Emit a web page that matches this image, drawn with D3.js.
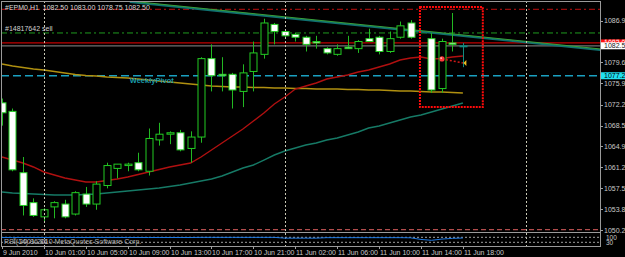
<!doctype html>
<html lang="en">
<head>
<meta charset="utf-8">
<title>EPM0,H1</title>
<script src="https://cdn.jsdelivr.net/npm/d3@7"></script>
<style>
	body { margin: 0; background: #000; }
	svg { display: block; font-family: "Liberation Sans", Arial, sans-serif; }
</style>
</head>
<body>
<svg width="625" height="257"></svg>
<script>
// ---- data (EPM0, H1) ----
var symbol = "#EPM0,H1";

// one entry per hourly bar, bar 40 not shown
var open  = [1072.50,1071.00,1060.25,1055.00,1052.50,1054.25,1054.75,1053.00,1056.50,1054.75,1058.00,1061.00,1061.50,1062.00,1060.50,1066.00,1067.00,1067.25,1064.50,1066.50,1080.25,1077.50,1077.50,1074.50,1078.00,1081.00,1086.25,1085.00,1084.50,1084.00,1083.25,1082.00,1081.00,1082.25,1082.00,1083.75,1084.00,1081.50,1084.00,1086.50,null,1083.75,1075.00,1083.00,1082.50];
var high  = [1073.25,1071.50,1063.00,1055.75,1054.00,1055.25,1055.50,1057.00,1057.75,1058.75,1062.00,1061.75,1062.00,1063.75,1068.00,1069.00,1067.50,1067.75,1067.50,1080.50,1082.75,1080.50,1077.75,1079.25,1083.25,1087.25,1086.50,1085.25,1084.75,1084.25,1084.25,1082.25,1082.75,1084.25,1083.50,1085.50,1084.25,1085.00,1086.75,1087.00,null,1084.75,1083.75,1088.25,1083.00];
var low   = [1068.50,1060.50,1052.75,1052.50,1051.50,1052.25,1052.25,1052.75,1054.25,1053.75,1057.50,1059.25,1060.50,1060.50,1059.75,1065.00,1065.25,1064.00,1062.00,1065.50,1074.50,1074.50,1071.50,1071.75,1074.50,1080.25,1082.75,1084.00,1083.25,1081.50,1082.00,1081.00,1080.75,1082.00,1081.25,1083.25,1081.00,1081.25,1083.75,1083.75,null,1074.25,1074.25,1081.50,1078.75];
var close = [1070.75,1060.75,1054.50,1052.75,1053.75,1055.00,1052.50,1056.75,1054.75,1058.25,1061.50,1061.75,1061.75,1060.75,1066.25,1067.00,1067.25,1064.25,1066.50,1080.25,1077.25,1077.25,1074.75,1077.75,1081.25,1086.50,1085.00,1084.25,1084.00,1082.75,1083.00,1081.25,1082.00,1082.00,1083.25,1083.25,1081.50,1083.75,1086.00,1084.00,null,1074.75,1083.25,1082.75,1082.50];

// moving averages
var maRed   = [1063.00,1062.47,1061.95,1061.25,1060.37,1059.84,1059.32,1058.97,1058.61,1058.61,1058.88,1059.14,1059.49,1059.93,1060.37,1060.81,1061.25,1061.60,1061.95,1063.00,1064.23,1065.45,1066.68,1067.91,1069.31,1070.72,1072.29,1073.52,1074.92,1075.45,1075.98,1076.68,1077.03,1077.38,1077.90,1078.25,1078.78,1079.31,1080.01,1080.36,1080.54,1080.18,1080.27,1080.54,1080.71];
var maTeal  = [1056.86,1056.69,1056.60,1056.51,1056.42,1056.34,1056.34,1056.34,1056.42,1056.51,1056.69,1056.86,1057.04,1057.21,1057.39,1057.56,1057.83,1058.09,1058.44,1058.79,1059.14,1059.67,1060.37,1061.07,1061.60,1062.47,1063.35,1064.05,1064.58,1065.10,1065.45,1065.98,1066.33,1066.86,1067.38,1068.09,1068.44,1068.96,1069.49,1070.01,1070.36,1070.89,1071.42,1071.94,1072.47];
var maOlive = [1079.31,1078.96,1078.69,1078.43,1078.25,1077.99,1077.73,1077.47,1077.29,1077.20,1077.03,1076.94,1076.85,1076.68,1076.50,1076.33,1076.15,1075.98,1075.80,1075.62,1075.45,1075.36,1075.27,1075.27,1075.19,1075.19,1075.10,1075.10,1075.01,1075.01,1074.92,1074.92,1074.92,1074.84,1074.84,1074.75,1074.75,1074.66,1074.57,1074.57,1074.49,1074.40,1074.40,1074.31,1074.22];

// sub window oscillator
var osc = [97,97,97,97,97,97,97,97,97,97,97,97,97,97,97,97,97,97,97,99,99,99,99,99,99,99,99,88,88,88,88,95,95,95,95,95,95,95,95,93,70,58,75,85,90];
var oscLevels = [100, 30];

// axes
var priceTicks = [1086.90,1083.20,1079.60,1075.90,1072.20,1068.50,1064.90,1061.20,1057.50,1053.80,1050.20];
var timeLabels = ["9 Jun 2010","10 Jun 01:00","10 Jun 05:00","10 Jun 09:00","10 Jun 13:00","10 Jun 17:00","10 Jun 21:00","11 Jun 02:00","11 Jun 06:00","11 Jun 10:00","11 Jun 14:00","11 Jun 18:00"];
var timeLabelBars = [0,4,8,12,16,20,24,28,32,36,40,44];
var separatorBars = [4,27,50];

// chart objects
var pivot = 1077.25;
var sellLevel = 1084.75, sellLabel = "#14817642 sell";
var tpLevel = 1088.90, slLevel = 1050.25;
var bid = 1082.50, ask = 1083.00;
var trendBars = [12.2, 57.1], trendPrices = [1090.35, 1081.95];
var boxBars = [39.9, 45.9], boxPrices = [1089.30, 1071.75];
var tradeBars = [42, 44], tradePrices = [1080.20, 1079.50];

// ---- layout ----
var L = 1, R = 600, T = 1, mainB = 232, subB = 246;

var svg = d3.select("svg");
svg.append("rect").attr("width", 625).attr("height", 257).attr("fill", "#000");

var x = d3.scaleLinear().domain([0, 44]).range([2, 462.9]);
var y = d3.scaleLinear().domain([1050.2, 1086.9]).range([230, 20.7]);
var yo = d3.scaleLinear().domain([30, 100]).range([242.3, 237.3]);

svg.append("clipPath").attr("id", "main").append("rect")
	.attr("x", L).attr("y", T).attr("width", R - L).attr("height", mainB - T);
svg.append("clipPath").attr("id", "sub").append("rect")
	.attr("x", L).attr("y", mainB).attr("width", R - L).attr("height", subB - mainB);

var g = svg.append("g").attr("clip-path", "url(#main)");

// period separators
svg.selectAll(".sep").data(separatorBars).enter().append("line")
	.attr("x1", d => Math.round(x(d)) + 0.5).attr("x2", d => Math.round(x(d)) + 0.5)
	.attr("y1", T).attr("y2", subB)
	.attr("stroke", "#c8c8b4").attr("stroke-dasharray", "2,2");

// horizontal levels
function hline(p, color, dash, w) {
	g.append("line").attr("x1", L).attr("x2", R)
		.attr("y1", y(p)).attr("y2", y(p))
		.attr("stroke", color).attr("stroke-width", w || 1)
		.attr("stroke-dasharray", dash);
}
hline(tpLevel, "#c01010", "6,3,2,3");
hline(sellLevel, "#1f9a1f", "6,3,2,3");
hline(ask, "#c00000", null, 1.3);
hline(bid, "#707070", null, 1.3);
hline(pivot, "#1aa0c0", "8,4", 1.5);
hline(slLevel, "#e06060", "5,3");

// moving averages
var line = d3.line().x((d, i) => x(i)).y(d => y(d));
g.append("path").attr("d", line(maOlive)).attr("fill", "none").attr("stroke", "#b09010").attr("stroke-width", 1.4);
g.append("path").attr("d", line(maTeal)).attr("fill", "none").attr("stroke", "#167a66").attr("stroke-width", 1.4);
g.append("path").attr("d", line(maRed)).attr("fill", "none").attr("stroke", "#b01010").attr("stroke-width", 1.4);

// trendline (two overlapping lines)
g.append("line").attr("x1", x(trendBars[0])).attr("y1", y(trendPrices[0]) + 1)
	.attr("x2", x(trendBars[1])).attr("y2", y(trendPrices[1]) + 1)
	.attr("stroke", "#0f7070").attr("stroke-width", 2);
g.append("line").attr("x1", x(trendBars[0])).attr("y1", y(trendPrices[0]))
	.attr("x2", x(trendBars[1])).attr("y2", y(trendPrices[1]))
	.attr("stroke", "#3aa03a").attr("stroke-width", 1);

// candles
var bars = d3.range(open.length).filter(i => open[i] != null);
var c = g.selectAll(".bar").data(bars).enter().append("g");
c.append("line")
	.attr("x1", i => Math.round(x(i)) + 0.5).attr("x2", i => Math.round(x(i)) + 0.5)
	.attr("y1", i => y(high[i])).attr("y2", i => y(low[i]))
	.attr("stroke", i => i == 44 ? "#138a80" : "#22b822");
c.append("rect")
	.attr("x", i => Math.round(x(i)) - 3)
	.attr("y", i => y(Math.max(open[i], close[i])))
	.attr("width", 7)
	.attr("height", i => Math.max(1, Math.abs(y(open[i]) - y(close[i]))))
	.attr("fill", i => close[i] < open[i] ? "#fff" : "#000")
	.attr("stroke", i => i == 44 ? "#138a80" : "#22cc22")
	.attr("stroke-width", 1);

// highlight box
g.append("rect")
	.attr("x", x(boxBars[0])).attr("y", y(boxPrices[0]))
	.attr("width", x(boxBars[1]) - x(boxBars[0])).attr("height", y(boxPrices[1]) - y(boxPrices[0]))
	.attr("fill", "none").attr("stroke", "#ff0a0a").attr("stroke-width", 2).attr("stroke-dasharray", "2,1");

// trade marks
g.append("line").attr("x1", x(tradeBars[0])).attr("y1", y(tradePrices[0]))
	.attr("x2", x(tradeBars[1])).attr("y2", y(tradePrices[1]))
	.attr("stroke", "#d01818").attr("stroke-width", 1.5).attr("stroke-dasharray", "2,2");
g.append("circle").attr("cx", x(tradeBars[0])).attr("cy", y(tradePrices[0])).attr("r", 2.6).attr("fill", "#ff3a3a");
g.append("circle").attr("cx", x(tradeBars[0]) - 0.8).attr("cy", y(tradePrices[0]) - 0.8).attr("r", 0.9).attr("fill", "#ffd0d0");
var ax = x(tradeBars[1]) + 0.5, ay = y(tradePrices[1]);
g.append("path").attr("d", "M" + (ax + 3) + "," + (ay - 3) + "L" + ax + "," + ay + "L" + (ax + 3) + "," + (ay + 3) + "Z").attr("fill", "#f0c020");

// texts in plot
g.append("text").attr("x", x(12) + 2).attr("y", y(pivot) + 7)
	.attr("font-size", 7.5).attr("font-weight", "bold").attr("fill", "#1a9aa8").text("WeeklyPivot");
g.append("text").attr("x", 5).attr("y", y(sellLevel) - 1.5)
	.attr("font-size", 7).attr("fill", "#d0d0d0").text(sellLabel);
var last = open.length - 1;
g.append("text").attr("x", 5).attr("y", 10).attr("font-size", 7).attr("fill", "#d8d8d8")
	.attr("xml:space", "preserve")
	.text(symbol + "  " + [open[last], high[last], low[last], close[last]].map(d => d.toFixed(2)).join(" "));

// sub window
var s = svg.append("g").attr("clip-path", "url(#sub)");
s.selectAll(".lvl").data(oscLevels).enter().append("line")
	.attr("x1", L).attr("x2", R).attr("y1", d => yo(d)).attr("y2", d => yo(d))
	.attr("stroke", "#a0a0a0").attr("stroke-dasharray", "2,2");
s.append("path").attr("d", d3.line().x((d, i) => x(i)).y(d => yo(d))(osc))
	.attr("fill", "none").attr("stroke", "#1e78e0").attr("stroke-width", 1);
s.append("text").attr("x", 4).attr("y", 244).attr("font-size", 7).attr("fill", "#b0b0b0").text("RSI(14) 96.86");
s.append("text").attr("x", 12).attr("y", 244).attr("font-size", 7).attr("fill", "#b0b0b0").text("\u00a9 2001-2010 MetaQuotes Software Corp.");

// frames
svg.append("rect").attr("x", L + 0.5).attr("y", T + 0.5).attr("width", R - L).attr("height", mainB - T)
	.attr("fill", "none").attr("stroke", "#9a9a9a");
svg.append("rect").attr("x", L + 0.5).attr("y", mainB + 0.5).attr("width", R - L).attr("height", subB - mainB)
	.attr("fill", "none").attr("stroke", "#9a9a9a");

// price axis
var pa = svg.append("g");
pa.selectAll(".pt").data(priceTicks).enter().append("line")
	.attr("x1", R).attr("x2", R + 3).attr("y1", d => Math.round(y(d)) + 0.5).attr("y2", d => Math.round(y(d)) + 0.5)
	.attr("stroke", "#a0a0a0");
pa.selectAll(".pl").data(priceTicks).enter().append("text")
	.attr("x", R + 4).attr("y", d => y(d) + 2.5).attr("font-size", 7).attr("fill", "#c8c8c8")
	.text(d => d.toFixed(2));

function tag(p, bg, fg) {
	pa.append("rect").attr("x", R + 1).attr("y", y(p) - 3.5).attr("width", 30).attr("height", 7).attr("fill", bg);
	pa.append("text").attr("x", R + 4).attr("y", y(p) + 2.5).attr("font-size", 7).attr("fill", fg).text(p.toFixed(2));
}
tag(ask, "#ff1010", "#ffffff");
tag(bid, "#ffffff", "#202020");
tag(pivot, "#20e0f0", "#000000");

// osc axis labels
pa.selectAll(".ol").data(oscLevels).enter().append("text")
	.attr("x", R + 6).attr("y", d => yo(d) + 2.5).attr("font-size", 6.5).attr("fill", "#c8c8c8")
	.text(d => d);

// time axis
var ta = svg.append("g");
ta.selectAll(".tt").data(timeLabelBars).enter().append("line")
	.attr("x1", d => Math.round(x(d)) + 0.5).attr("x2", d => Math.round(x(d)) + 0.5)
	.attr("y1", subB).attr("y2", subB + 3).attr("stroke", "#a0a0a0");
ta.selectAll(".tl").data(timeLabelBars).enter().append("text")
	.attr("x", d => Math.round(x(d)) + 1).attr("y", 255).attr("font-size", 7).attr("fill", "#c8c8c8")
	.text((d, i) => timeLabels[i]);
</script>
</body>
</html>
